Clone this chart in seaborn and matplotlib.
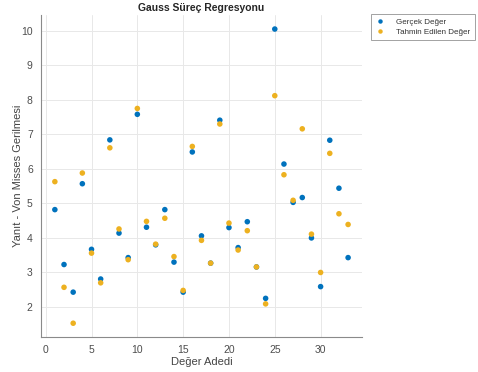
import numpy as np
import pandas as pd
import seaborn as sns
import matplotlib.pyplot as plt

# okunan değerler
idx = list(range(1, 34))
gercek = [4.82, 3.23, 2.43, 5.57, 3.67, 2.81, 6.84, 4.14, 3.43, 7.58,
          4.31, 3.80, 4.82, 3.30, 2.43, 6.49, 4.06, 3.27, 7.41, 4.30,
          3.72, 4.47, 3.16, 2.25, 10.05, 6.14, 5.03, 5.17, 4.00, 2.59,
          6.83, 5.44, 3.43]
tahmin = [5.63, 2.57, 1.53, 5.88, 3.56, 2.70, 6.61, 4.26, 3.37, 7.75,
          4.48, 3.82, 4.57, 3.46, 2.48, 6.65, 3.93, 3.27, 7.30, 4.43,
          3.65, 4.21, 3.16, 2.09, 8.12, 5.83, 5.09, 7.16, 4.11, 3.00,
          6.45, 4.70, 4.39]
series = ['Gerçek Değer', 'Tahmin Edilen Değer']
colors = ['#0072BD', '#EDB120']

df = pd.DataFrame({
    'Değer Adedi': idx * 2,
    'Yanıt': gercek + tahmin,
    'Seri': [series[0]] * len(idx) + [series[1]] * len(idx),
})

sns.set_style('white')
plt.rcParams['font.family'] = ['Liberation Sans', 'DejaVu Sans']

fig = plt.figure(figsize=(4.78, 3.72), dpi=100)
ax = fig.add_axes([0.086, 0.094, 0.671, 0.866])

sns.scatterplot(data=df, x='Değer Adedi', y='Yanıt', hue='Seri',
                palette=colors, s=16, edgecolor='none', ax=ax)

ax.set_xlim(-0.5, 34.5)
ax.set_ylim(1.13, 10.46)
ax.set_xticks(np.arange(0, 31, 5))
ax.set_yticks(np.arange(2, 11, 1))
ax.grid(True, color='#e8e8e8', linewidth=0.7)
ax.set_axisbelow(True)

for side in ['top', 'right']:
    ax.spines[side].set_visible(False)
for side in ['left', 'bottom']:
    ax.spines[side].set_color('#8a8a8a')
    ax.spines[side].set_linewidth(0.8)
ax.tick_params(direction='in', length=2.5, width=0.6, colors='#8a8a8a',
               labelcolor='#4d4d4d', labelsize=7.5, pad=6)

ax.set_title('Gauss Süreç Regresyonu', fontsize=7.5, fontweight='bold', pad=3)
ax.set_xlabel('Değer Adedi', fontsize=8, color='#444444', labelpad=1)
ax.set_ylabel('Yanıt - Von Misses Gerilmesi', fontsize=8, color='#444444', labelpad=-1)

leg = ax.legend(loc='upper left', bbox_to_anchor=(1.03, 1.003), fontsize=5.8,
                frameon=True, fancybox=False, borderpad=0.5, labelspacing=0.3,
                handlelength=1.2, handletextpad=1.4, borderaxespad=0,
                markerscale=0.8)
leg.get_frame().set_edgecolor('#8a8a8a')
leg.get_frame().set_linewidth(0.7)
for t in leg.get_texts():
    t.set_color('#333333')

fig.savefig('out.png', dpi=100)
